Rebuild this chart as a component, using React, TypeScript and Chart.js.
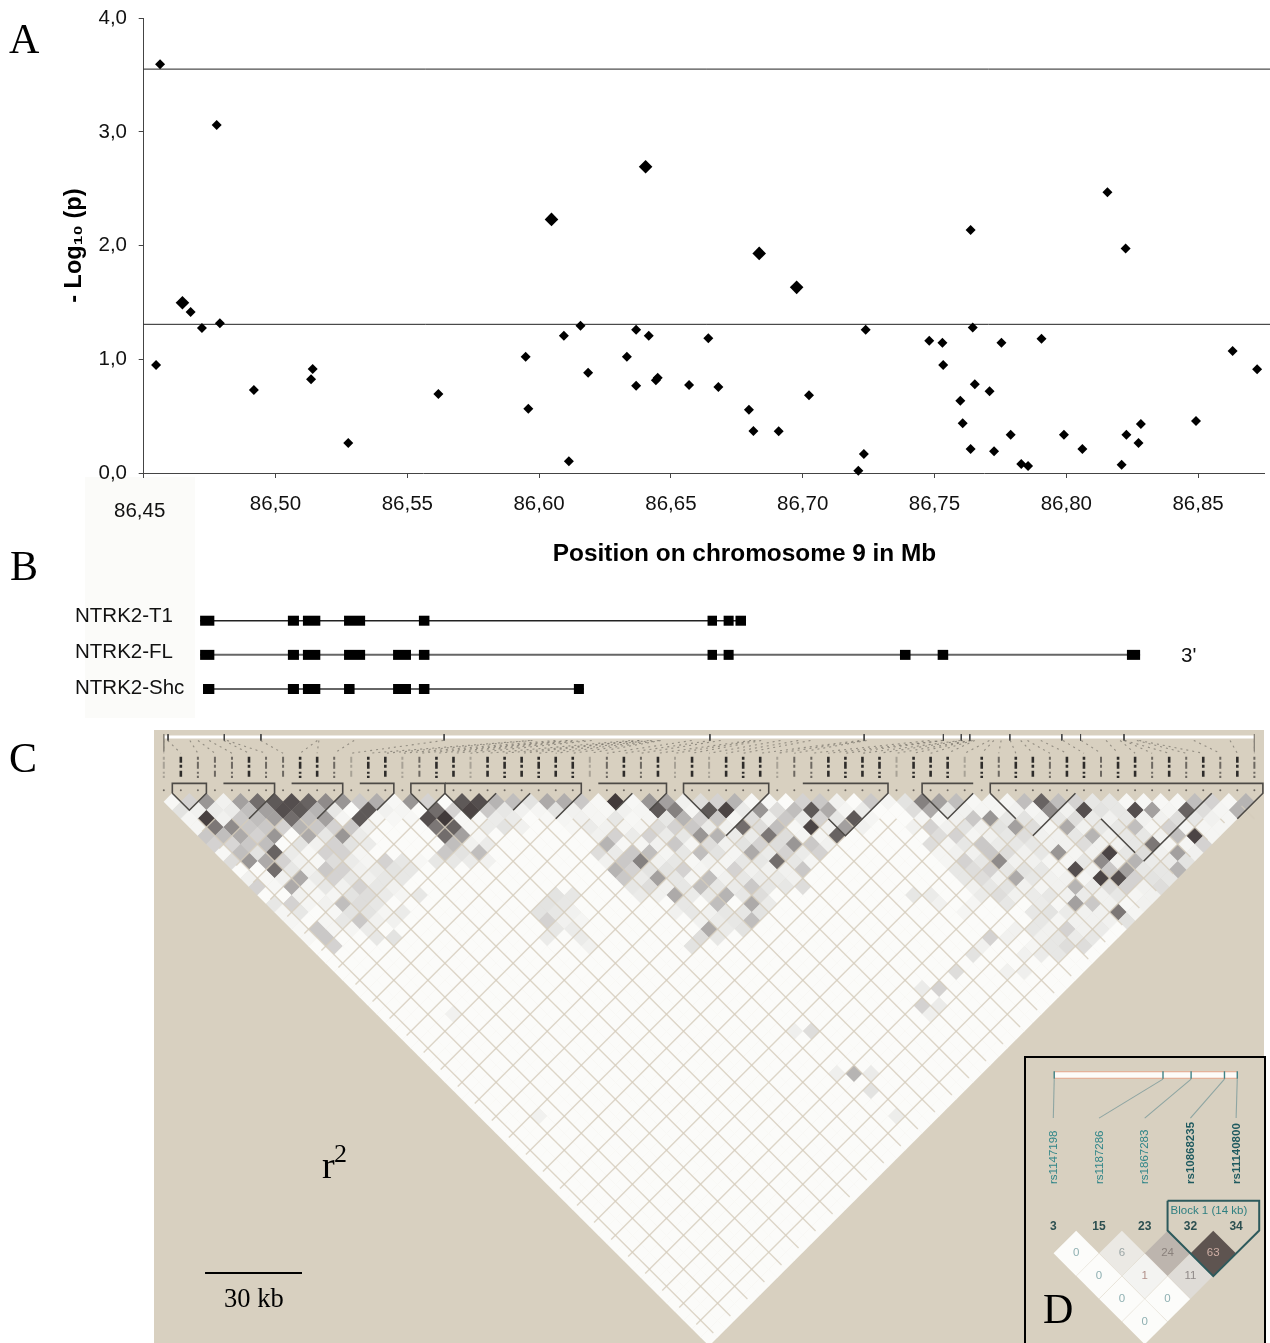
import React, { useEffect, useRef } from "react";
import { Chart, registerables } from "chart.js";

Chart.register(...registerables);

// ---------- Panel A: association scan ----------
const snpPos = [86.4562, 86.4777, 86.4547, 86.4678, 86.4721, 86.4789, 86.4918, 86.5141, 86.5135, 86.5276, 86.5618, 86.5949, 86.5959, 86.6094, 86.6113, 86.6157, 86.6186, 86.6333, 86.6368, 86.6368, 86.6416, 86.645, 86.6443, 86.6569, 86.6642, 86.668, 86.6796, 86.6813, 86.6909, 86.7024, 86.7211, 86.7232, 86.7239, 86.748, 86.753, 86.7533, 86.7598, 86.7607, 86.7637, 86.7645, 86.7653, 86.7637, 86.7709, 86.7726, 86.7754, 86.7789, 86.7829, 86.7855, 86.7906, 86.7991, 86.8061, 86.8156, 86.821, 86.8225, 86.8228, 86.8274, 86.8283, 86.8492, 86.8631, 86.8724];
const snpLogP = [3.595, 3.061, 0.95, 1.416, 1.275, 1.317, 0.73, 0.915, 0.824, 0.264, 0.695, 1.023, 0.566, 1.208, 0.103, 1.296, 0.882, 1.023, 1.26, 0.768, 1.208, 0.838, 0.815, 0.774, 1.185, 0.756, 0.557, 0.369, 0.367, 0.683, 0.02, 0.167, 1.26, 1.164, 1.146, 0.95, 0.636, 0.437, 2.137, 1.281, 0.78, 0.211, 0.719, 0.191, 1.146, 0.337, 0.079, 0.062, 1.181, 0.337, 0.211, 2.469, 0.073, 1.976, 0.337, 0.264, 0.431, 0.457, 1.073, 0.912];
const blockPos = [86.4647, 86.6047, 86.6404, 86.6835, 86.6977];
const blockLogP = [1.498, 2.231, 2.694, 1.932, 1.633];
const thresholds = [3.553, 1.308];
const xTicks = [86.45, 86.5, 86.55, 86.6, 86.65, 86.7, 86.75, 86.8, 86.85];
const yTicks = [0, 1, 2, 3, 4];

// ---------- Panel B: transcripts ----------
const transcripts = ["NTRK2-T1", "NTRK2-FL", "NTRK2-Shc"];
const exonsT1 = [[86.4714, 86.4768], [86.5047, 86.5089], [86.5104, 86.517], [86.526, 86.534], [86.5544, 86.5584], [86.6639, 86.6675], [86.67, 86.6738], [86.6745, 86.6785]];
const exonsFL = [[86.4714, 86.4768], [86.5047, 86.5089], [86.5104, 86.517], [86.526, 86.534], [86.5446, 86.5514], [86.5544, 86.5584], [86.6639, 86.6675], [86.67, 86.6738], [86.7369, 86.7409], [86.7512, 86.7552], [86.823, 86.828]];
const exonsShc = [[86.4725, 86.4768], [86.5047, 86.5089], [86.5104, 86.517], [86.526, 86.53], [86.5446, 86.5514], [86.5544, 86.5584], [86.6132, 86.617]];

// ---------- Panel C: pairwise r2, [position, value, position, value...] per row ----------
const ldRow1 = [1,.02,3,.2,5,.5,7,.05,9,.45,11,.7,13,.8,15,.85,17,.75,19,.55,21,.5,23,.25,25,.38,27,.02,29,.5,31,.2,33,0,35,.8,37,.85,39,.35,41,.3,43,.12,45,.4,47,.38,49,.25,51,.02,53,.95,55,.02,57,.5,59,.45,61,.05,63,.15,65,.2,67,.35,69,.02,71,.02,73,0,75,.2,77,.25,79,.05,81,0,83,.25,85,.03,87,.12,89,.6,91,.45,93,.3,95,.02,97,.03,99,.03,101,.3,103,.75,105,.3,107,.2,109,.1,111,.1,113,.02,115,.02,117,.02,119,.02,121,.3,123,.2,125,.02,127,.35];
const ldRow2 = [2,.12,4,.05,6,.08,8,.08,10,.3,12,.45,14,.85,16,.8,18,.35,20,.1,22,0,24,.8,26,.05,28,.03,30,0,32,.7,34,.2,36,.9,38,.25,40,.1,42,.05,44,.03,46,.12,48,.05,50,.03,52,.02,54,.05,56,.03,58,.8,60,.6,62,.03,64,.8,66,.9,68,.08,70,.5,72,.15,74,.3,76,.8,78,.4,80,.03,82,.08,88,.15,90,.4,92,.1,94,.05,96,.03,98,.03,100,.05,102,.03,104,.55,106,.05,108,.85,110,.12,112,.1,114,.85,116,.45,118,.03,120,.75,122,.15,124,.03,126,.35];
const ldRow3 = [3,.03,5,.92,7,.05,9,.25,11,.3,13,.45,15,.7,17,.3,19,.45,21,.03,23,.8,25,.02,27,.02,29,.02,31,.85,33,.95,35,.02,37,.02,39,.08,41,.08,45,.02,47,.03,49,.05,51,.03,53,.1,55,.02,57,.03,59,.1,61,.35,63,.2,65,.25,67,.03,69,.15,71,.05,73,.25,75,.08,77,.2,79,.1,81,.8,83,.03,89,.03,91,.02,93,.05,95,.25,97,.5,99,.1,101,.12,103,.05,105,.1,107,.15,109,.08,111,.05,113,.1,115,.05,117,.05,119,.15,121,.1,123,.05,125,.03];
const ldRow4 = [4,.03,6,.65,8,.55,10,.25,12,.25,14,.2,16,.35,18,.25,20,.2,22,.25,24,.05,32,.65,34,.75,36,.02,38,.08,40,.12,42,.05,48,.02,50,.08,52,.05,54,.03,56,.03,58,.15,60,.2,62,.25,64,.08,66,.05,68,.7,70,.15,72,.3,74,.02,76,.9,78,.05,80,.45,82,.05,88,.05,90,.2,92,.05,94,.12,96,.05,98,.12,100,.45,102,.15,104,.03,106,.4,108,.05,110,.1,112,.1,114,.3,116,.03,118,.2,120,.03,122,.03,124,.03];
const ldRow5 = [5,.25,7,.3,9,.4,11,.2,13,.5,15,0,17,.4,19,.1,21,.5,23,.08,33,.7,35,.45,37,.02,51,.05,53,.2,55,.08,57,.2,59,.08,61,.1,63,.5,65,.35,67,.08,69,.08,71,.65,73,.15,75,.03,77,.03,79,.75,91,.15,93,.2,95,.03,97,.05,99,.1,101,.15,103,.05,105,.05,107,.1,109,.35,111,.05,113,.1,115,.1,117,.05,119,.3,121,.9,123,.03];
const ldRow6 = [6,.2,8,.18,10,.25,12,.3,14,0,16,.12,18,.05,20,.2,22,.12,24,.08,34,.3,36,.05,38,.08,52,.35,54,.02,56,.03,58,.05,60,.25,62,.03,64,.15,66,.05,68,.12,70,.2,72,.15,74,.5,76,.25,78,.05,90,.15,92,.03,94,.1,96,.25,98,.08,100,.1,102,.1,104,.05,106,.05,108,.15,110,.05,112,.05,114,.1,116,.65,118,.03,120,.03,122,.2];
const ldRow7 = [7,.02,9,.3,11,.12,13,.75,15,.08,17,.02,19,.2,21,.2,23,.03,33,.25,35,.12,37,.3,51,.15,53,.08,55,.25,57,.3,59,.03,61,.1,63,.3,65,.12,67,.03,69,.4,71,.08,73,.2,75,.08,77,.2,91,.03,93,.05,95,.05,97,.25,99,.15,101,.05,103,.1,105,.5,107,.03,109,.05,111,.9,113,.1,115,.15,117,.05,119,.45,121,.05];
const ldRow8 = [8,.15,10,.5,12,.4,14,.2,16,.05,18,.02,20,.15,22,.08,24,.03,26,.2,28,.1,30,.02,32,.1,34,.1,36,.08,38,.05,52,.05,54,.25,56,.6,58,.05,60,.1,62,.02,64,.05,66,.03,68,.1,70,.1,72,.7,74,.1,76,.03,92,.03,94,.2,96,.1,98,.55,100,.05,102,.05,104,.03,106,.03,108,.1,110,.55,112,.05,114,.35,116,.08,118,.08,120,.12];
const ldRow9 = [9,0,11,0,13,.7,15,.1,17,.05,19,.25,21,.2,23,.05,25,.08,27,.12,29,.1,53,.35,55,.2,57,.12,59,.12,61,.2,63,.03,65,.03,67,.2,69,.05,71,.05,73,.05,75,.25,93,.1,95,.15,97,.2,99,.1,101,.12,103,.1,105,.03,107,.85,109,.05,111,.25,113,.45,115,.1,117,.1,119,.35];
const ldRow10 = [10,.05,12,.02,14,.05,16,.4,18,.08,20,.2,22,.1,24,.05,26,.1,28,.1,54,.25,56,.08,58,.45,60,.1,62,.03,64,.3,66,.05,68,.1,70,.08,72,.08,74,.05,94,.1,96,.15,98,.05,100,.4,102,.1,104,.05,106,.05,108,.03,110,.9,112,.85,114,.2,116,.12,118,.1];
const ldRow11 = [11,.2,13,.02,15,.4,17,.03,19,.1,21,.05,23,.2,25,.1,27,.05,55,.1,57,.15,59,.05,61,.1,63,.3,65,.1,67,.08,69,.25,71,.1,73,.1,75,.15,95,.05,97,.1,99,.12,101,.05,103,.03,105,.05,107,.35,109,.08,111,.15,113,.2,115,.05,117,.15];
const ldRow12 = [12,0,14,0,16,.05,18,.02,20,.03,22,.12,24,.15,26,.08,28,.03,30,.1,46,.12,48,.1,56,.08,58,.05,60,.4,62,.08,64,.1,66,.35,68,.1,70,.15,88,.1,90,.08,96,.08,98,.15,100,.05,102,.08,104,.1,106,.05,108,.08,110,.05,112,.1,114,.03,116,.05];
const ldRow13 = [13,.1,15,.2,17,.03,19,.05,21,.3,23,.15,25,.1,45,.12,47,.1,61,.1,65,.3,69,.4,71,.08,91,.05,95,.03,99,.1,103,.08,105,.02,107,.45,109,.25,111,.05,113,.02,115,.05];
const ldRow14 = [14,.03,16,.1,18,0,20,.02,22,.12,24,.12,26,.03,28,.08,44,.12,46,.1,48,.05,60,.05,62,.1,64,.05,66,.1,68,.1,70,.12,94,.03,102,.1,104,.12,106,.08,108,.05,110,.05,112,.65,114,.03];
const ldRow15 = [15,.03,17,0,19,.03,21,.1,23,.25,25,.05,27,.05,45,.2,47,.05,49,.03,63,.05,65,.08,67,.1,69,.3,103,.1,105,.03,107,.05,109,.05,111,.05,113,.12];
const ldRow16 = [16,.02,18,.25,20,.03,22,.03,24,.08,46,.1,48,.08,64,.4,66,.08,68,.12,100,.05,102,.1,104,.05,106,.2,108,.05,110,.08];
const ldRow17 = [17,.02,19,.25,25,.1,27,.12,45,.08,49,.08,63,.15,65,.1,97,.2,99,.05,103,.05,105,.1,107,.08,109,.1];
const ldRow18 = [20,.2,50,.05,62,.12,96,.05,102,.03,104,.1,106,.15,108,.15];
const ldRow19 = [95,.12,101,.05,103,.08,105,.1];
const ldRow21 = [93,.15,99,.05,101,.06];
const ldRow23 = [91,.2,89,.08];
const ldRow25 = [89,.2,91,.08];
const ldRow26 = [34,.05,90,.06];
const ldRow28 = [76,.15,74,.06];
const ldRow33 = [81,.35,83,.08,79,.06];
const ldRow35 = [83,.12];
const ldRow38 = [44,.05,86,.07];
const ldRows = [ldRow1, ldRow2, ldRow3, ldRow4, ldRow5, ldRow6, ldRow7, ldRow8, ldRow9, ldRow10, ldRow11, ldRow12, ldRow13, ldRow14, ldRow15, ldRow16, ldRow17, ldRow18, ldRow19];
const ldSparseRows: [number, number[]][] = [[21, ldRow21], [23, ldRow23], [25, ldRow25], [26, ldRow26], [28, ldRow28], [33, ldRow33], [35, ldRow35], [38, ldRow38]];
const snpCount = 65;
// 0 light, 1 medium, 2 dark: how strongly each SNP name shows in the header
const snpNameWeight = [0,2,1,1,1,2,1,1,2,2,1,0,2,2,0,1,2,2,0,2,2,2,2,2,2,0,1,2,1,2,0,2,0,2,2,2,0,1,1,2,2,2,2,0,2,2,2,0,2,1,2,2,1,2,2,1,2,2,1,2,1,2,1,2,1];
const mapTicks = [0, 0.5, 7.1, 11.4, 32.9, 64.1, 82.2, 91.5, 93.6, 94.6, 99.3, 105.4, 107.6, 112.7, 128];
const blockOutlines = [
  [[1,0],[1,-1.16],[5,-1.16],[5,0],[3,2],[1,0]],
  [[7,-1.16],[13,-1.16],[13,0],[10,3]],
  [[15,-1.16],[21,-1.16],[21,0],[18,3]],
  [[23,-1.16],[27,-1.16],[27,0],[25,2]],
  [[29,0],[29,-1.16],[33,-1.16],[33,0],[31,2],[29,0]],
  [[33,-1.16],[49,-1.16],[49,0],[46,3]],
  [[33,0],[36,3],[39,0]],
  [[43,0],[41,2]],
  [[51,-1.16],[59,-1.16],[59,0],[57,2]],
  [[55,0],[53,2]],
  [[61,0],[61,-1.16],[71,-1.16],[71,0],[66,5]],
  [[61,0],[64,3]],
  [[75,-1.16],[85,-1.16],[85,0],[80,5],[78,3]],
  [[89,0],[89,-1.16],[95,-1.16]],
  [[89,0],[92,3],[95,0]],
  [[97,0],[97,-1.16],[129,-1.16],[129,0],[126,3]],
  [[97,0],[100,3]],
  [[107,0],[102,5]],
  [[110,3],[114,7]],
  [[123,0],[115,8]],
];
const scaleBar = [[4.84, 56.45], [16.22, 56.45]];

// ---------- Panel D: inset block ----------
const insetNames = ["rs1147198", "rs1187286", "rs1867283", "rs10868235", "rs11140800"];
const insetNumbers = ["3", "15", "23", "32", "34"];
const insetCells = [[1,1,0],[3,1,6],[5,1,24],[7,1,63],[2,2,0],[4,2,1],[6,2,11],[3,3,0],[5,3,0],[4,4,0]];
const insetMapTicks = [0.04, 4.8, 6.03, 7.49, 8.05];

const sans = "'Liberation Sans', Arial, sans-serif";
const BLACK = "#000";
const TAN = "#d8d0c0";

function ldColor(v: number) {
  const r = Math.round(251 - v * 196), g = Math.round(251 - v * 203), b = Math.round(249 - v * 201);
  return `rgb(${r},${g},${b})`;
}
function segment(pts: number[][], color: string, width: number, extra: any = {}) {
  return {
    type: "scatter", showLine: true, pointRadius: 0, borderColor: color, borderWidth: width, fill: false,
    borderCapStyle: "butt", data: pts.map(([x, y]) => ({ x, y })), clip: false, ...extra,
  };
}
const base: any = {
  responsive: false, animation: false, devicePixelRatio: 1, events: [],
  plugins: { legend: { display: false }, tooltip: { enabled: false }, title: { display: false } },
};

export default function App() {
  const aRef = useRef<HTMLCanvasElement>(null);
  const bRef = useRef<HTMLCanvasElement>(null);
  const cRef = useRef<HTMLCanvasElement>(null);
  const dRef = useRef<HTMLCanvasElement>(null);

  useEffect(() => {
    const charts: Chart[] = [];
    const xMin = 86.45, xMax = 86.875;

    // A
    charts.push(new Chart(aRef.current!, {
      type: "scatter",
      data: {
        datasets: [
          { data: snpPos.map((x, i) => ({ x, y: snpLogP[i] })), pointStyle: "rectRot", pointRadius: 5, backgroundColor: BLACK, borderWidth: 0, clip: false },
          { data: blockPos.map((x, i) => ({ x, y: blockLogP[i] })), pointStyle: "rectRot", pointRadius: 6.8, backgroundColor: BLACK, borderWidth: 0, clip: false },
          ...thresholds.map((t) => segment([[xMin, t], [86.8773, t]], "#222", 1)),
        ] as any,
      },
      options: {
        ...base,
        layout: { autoPadding: false, padding: { top: 18.3, right: 6, bottom: 0, left: 0 } },
        scales: {
          x: {
            type: "linear", min: xMin, max: xMax,
            afterBuildTicks: (s: any) => { s.ticks = xTicks.map((value) => ({ value })); },
            afterFit: (s: any) => { s.height = 107; },
            grid: { drawOnChartArea: false, color: "#444", tickLength: 5 },
            border: { color: "#444" },
            ticks: {
              autoSkip: false, maxRotation: 0, padding: 14, color: "#111", font: { family: sans, size: 20.5 },
              callback: (v: any) => (Math.abs(v - xMin) < 1e-6 ? "" : Number(v).toFixed(2).replace(".", ",")),
            },
            title: {
              display: true, text: "            Position on chromosome 9 in Mb", color: BLACK,
              font: { family: sans, size: 24.4, weight: "bold" }, padding: { top: 0, bottom: 11 },
            },
          },
          y: {
            min: 0, max: 4,
            afterBuildTicks: (s: any) => { s.ticks = yTicks.map((value) => ({ value })); },
            afterFit: (s: any) => { s.width = 143.7; },
            grid: { drawOnChartArea: false, color: "#444", tickLength: 5 },
            border: { color: "#444" },
            ticks: { padding: 6, color: "#111", font: { family: sans, size: 20.5 }, callback: (v: any) => Number(v).toFixed(1).replace(".", ",") + " " },
            title: {
              display: true, text: "- Log₁₀ (p)", color: BLACK,
              font: { family: sans, size: 23.5, weight: "bold" }, padding: { top: 60, bottom: 0 },
            },
          },
        },
      } as any,
    }));

    // B
    const exonSets = [exonsT1, exonsFL, exonsShc];
    const geneDatasets: any[] = [];
    exonSets.forEach((exons, row) => {
      exons.forEach(([a, b]) => geneDatasets.push(segment([[a, row], [b, row]], BLACK, 10, { order: 0 })));
      geneDatasets.push(segment([[exons[0][0], row], [exons[exons.length - 1][1], row]], row === 0 ? "#222" : "#666", row === 0 ? 1.6 : 2, { order: 1 }));
    });
    charts.push(new Chart(bRef.current!, {
      type: "scatter",
      data: { datasets: geneDatasets },
      options: {
        ...base,
        layout: { autoPadding: false, padding: { left: 143.7, right: 6, top: 0, bottom: 0 } },
        scales: {
          x: { type: "linear", display: false, min: xMin, max: xMax },
          y: { type: "linear", display: false, reverse: true, min: -0.899, max: 2.907 },
        },
      } as any,
    }));

    // C
    const cellValue = new Map<string, number>();
    ldRows.forEach((row, idx) => {
      for (let k = 0; k < row.length; k += 2) cellValue.set(`${row[k]}_${idx + 1}`, row[k + 1]);
    });
    ldSparseRows.forEach(([r, row]) => {
      for (let k = 0; k < row.length; k += 2) cellValue.set(`${row[k]}_${r}`, row[k + 1]);
    });
    const cells: { x: number; y: number }[] = [];
    const cellColors: string[] = [];
    const last = snpCount - 1;
    for (let r = 1; r <= last; r++) {
      for (let c = r; c <= 2 * last - r; c += 2) {
        cells.push({ x: c, y: r });
        cellColors.push(ldColor(cellValue.get(`${c}_${r}`) ?? 0));
      }
    }
    const sorted = [...snpPos, ...blockPos].sort((a, b) => a - b);
    const lo = sorted[0], hi = sorted[sorted.length - 1];
    const cDatasets: any[] = [];
    const latticeColor = "rgba(212,204,188,0.8)";
    for (let k = 0; k < last; k += 2) {
      cDatasets.push(segment([[2 * k + 1 + 3, 3], [k + 0.5 + last, last - k - 0.5]], latticeColor, 1.4, { order: 5 }));
      if (k >= 3) cDatasets.push(segment([[2 * k + 1 - 3, 3], [k + 0.5, k + 0.5]], latticeColor, 1.4, { order: 5 }));
    }
    cDatasets.push({ data: cells, pointStyle: "rectRot", pointRadius: 8.7, pointBorderWidth: 0, pointBackgroundColor: cellColors, order: 10, clip: true });
    blockOutlines.forEach((o) => cDatasets.push(segment(o, "#4d4a46", 1.6, { order: 1 })));
    cDatasets.push(segment(scaleBar, BLACK, 2, { order: 1 }));
    // physical map bar and its links to the SNP names
    cDatasets.push(segment([[0, -6.6], [128, -6.6]], "#ffffff", 3, { order: 3 }));
    mapTicks.forEach((t, i) => {
      const end = i === 0 || i === mapTicks.length - 1 ? -4.9 : -6.2;
      cDatasets.push(segment([[t, -6.95], [t, end]], i === 0 || i === mapTicks.length - 1 ? "#8a857b" : "#444", 1, { order: 2 }));
    });
    sorted.forEach((p, i) => {
      const barCol = ((p - lo) / (hi - lo)) * 2 * last;
      cDatasets.push(segment([[barCol, -6.2], [2 * i, -4.7]], "rgba(90,85,78,0.55)", 1.1, { order: 4, borderDash: [2, 4] }));
      const w = snpNameWeight[i] ?? 1;
      cDatasets.push(segment([[2 * i, -4.3], [2 * i, -1.8]], ["#a8a296", "#6d6861", "#2e2c2a"][w], w === 2 ? 2.6 : 2, { order: 4, borderDash: i % 2 ? [6, 2, 3, 3] : [3, 2, 7, 3, 2, 2] }));
    });
    cDatasets.push({ data: sorted.map((_, i) => ({ x: 2 * i, y: -0.35 })), pointStyle: "circle", pointRadius: 1, backgroundColor: "#6d6861", borderWidth: 0, order: 4 });

    charts.push(new Chart(cRef.current!, {
      type: "scatter",
      data: { datasets: cDatasets },
      options: {
        ...base,
        layout: { autoPadding: false, padding: 0 },
        scales: {
          x: { type: "linear", display: false, min: -1.15, max: 129.13 },
          y: { type: "linear", display: false, reverse: true, min: -7.435, max: 64.68 },
        },
      } as any,
    }));

    // D
    const insetColor: Record<number, string> = { 0: "#fcfcfa", 1: "#f3f3f1", 6: "#ebe9e4", 11: "#dfdcd7", 24: "#bdb5ae", 63: "#5e5450" };
    const insetText: Record<number, string> = { 0: "#8fb0b2", 1: "#b08f8a", 6: "#9aa5a5", 11: "#8f8a88", 24: "#8a817c", 63: "#d0b0a6" };
    const insetPlugin = {
      id: "insetText",
      afterDatasetsDraw(chart: any) {
        const { ctx, scales: { x, y } } = chart;
        ctx.save();
        ctx.textAlign = "center"; ctx.textBaseline = "middle";
        ctx.font = `11.5px ${sans}`;
        insetCells.forEach(([c, r, v]) => { ctx.fillStyle = insetText[v]; ctx.fillText(String(v), x.getPixelForValue(c), y.getPixelForValue(r)); });
        ctx.font = `bold 12px ${sans}`; ctx.fillStyle = "#2c4f50";
        insetNumbers.forEach((n, i) => ctx.fillText(n, x.getPixelForValue(i * 2), y.getPixelForValue(-0.16)));
        ctx.font = `11.5px ${sans}`; ctx.fillStyle = "#2f7f80"; ctx.textAlign = "left";
        ctx.fillText("Block 1 (14 kb)", x.getPixelForValue(5.13), y.getPixelForValue(-0.85));
        insetNames.forEach((n, i) => {
          ctx.save();
          ctx.translate(x.getPixelForValue(i * 2) + 0.5, y.getPixelForValue(-2.04));
          ctx.rotate(-Math.PI / 2);
          ctx.font = `${i >= 3 ? "bold " : ""}11.5px ${sans}`;
          ctx.fillStyle = i >= 3 ? "#1f5a5f" : "#2f8588";
          ctx.textAlign = "left";
          ctx.fillText(n, 0, 0);
          ctx.restore();
        });
        ctx.restore();
      },
    };
    const barY = -6.82;
    const linkTops = [0, 2, 4, 6, 8];
    const dDatasets: any[] = [
      segment([[5, -1.3], [9.01, -1.3], [9.01, 0], [7, 2], [5, 0], [5, -1.3]], "#2d5a5c", 2, { order: 1 }),
      { data: insetCells.map(([c, r]) => ({ x: c, y: r })), pointStyle: "rectRot", pointRadius: 22.6, pointBorderWidth: 0, pointBackgroundColor: insetCells.map(([, , v]) => insetColor[v]), order: 3, clip: false },
      segment([[0.04, barY], [8.05, barY]], "#e8a98e", 7.5, { order: 3 }),
      segment([[0.04, barY], [8.05, barY]], "#fdfbf8", 5.5, { order: 2 }),
      ...insetMapTicks.map((t) => segment([[t, barY - 0.16], [t, barY + 0.16]], "#3f8285", 1.4, { order: 1 })),
      ...insetMapTicks.map((t, i) => segment([[t, barY + 0.18], [linkTops[i], -4.93]], "#8ea5a2", 1.1, { order: 3 })),
    ];
    charts.push(new Chart(dRef.current!, {
      type: "scatter",
      data: { datasets: dDatasets },
      options: {
        ...base,
        layout: { autoPadding: false, padding: 0 },
        scales: {
          x: { type: "linear", display: false, min: -1.195, max: 9.22 },
          y: { type: "linear", display: false, reverse: true, min: -7.566, max: 4.934 },
        },
      } as any,
      plugins: [insetPlugin],
    }));

    return () => charts.forEach((c) => c.destroy());
  }, []);

  const abs = (left: number, top: number, extra: React.CSSProperties = {}): React.CSSProperties => ({ position: "absolute", left, top, whiteSpace: "pre", lineHeight: 1, ...extra });
  const serifBig: React.CSSProperties = { fontFamily: "'Liberation Serif', serif", fontSize: 42, color: "#000" };
  const sansText: React.CSSProperties = { fontFamily: sans, fontSize: 20.5, color: "#111" };

  return (
    <div style={{ position: "absolute", left: 0, top: 0, width: 1270, height: 1343, overflow: "hidden", background: "#fff" }}>
      <div style={abs(85, 477, { width: 110, height: 241, background: "#fbfbf9" })} />
      <div style={abs(154, 730, { width: 1110, height: 613, background: TAN })} />
      <canvas ref={aRef} width={1270} height={580} style={{ position: "absolute", left: 0, top: 0 }} />
      <canvas ref={bRef} width={1270} height={130} style={{ position: "absolute", left: 0, top: 590 }} />
      <canvas ref={cRef} width={1110} height={613} style={{ position: "absolute", left: 154, top: 730 }} />
      <div style={abs(1024, 1056, { width: 238, height: 287, background: TAN, border: "2px solid #000", borderBottom: "none" })} />
      <canvas ref={dRef} width={238} height={285} style={{ position: "absolute", left: 1026, top: 1058 }} />

      <div style={abs(9, 17.5, serifBig)}>A</div>
      <div style={abs(10, 545, serifBig)}>B</div>
      <div style={abs(9, 737, serifBig)}>C</div>
      <div style={abs(1043, 1288, serifBig)}>D</div>
      <div style={abs(114, 500, sansText)}>86,45</div>
      {transcripts.map((t, i) => (
        <div key={t} style={abs(75, [604.5, 641, 676.5][i], sansText)}>{t}</div>
      ))}
      <div style={abs(1181, 645, sansText)}>3'</div>
      <div style={abs(322, 1146, { fontFamily: "'Liberation Serif', serif", fontSize: 38, color: "#000" })}>r</div>
      <div style={abs(334, 1141, { fontFamily: "'Liberation Serif', serif", fontSize: 26, color: "#000" })}>2</div>
      <div style={abs(224, 1285, { fontFamily: "'Liberation Serif', serif", fontSize: 26.5, color: "#000" })}>30 kb</div>
    </div>
  );
}
